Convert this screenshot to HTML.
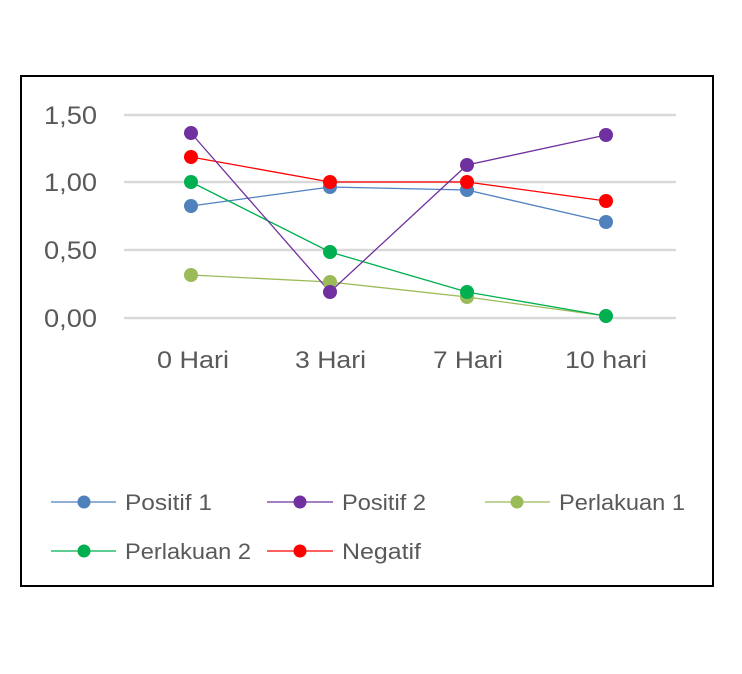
<!DOCTYPE html>
<html><head><style>body{margin:0;background:#fff}svg{display:block}</style></head><body>
<svg width="742" height="674" xmlns="http://www.w3.org/2000/svg" font-family="Liberation Sans, sans-serif">
<rect x="21" y="76" width="692" height="510" fill="#fff" stroke="#000" stroke-width="2"/>
<g stroke="#d9d9d9" stroke-width="2.5">
<line x1="124" y1="115" x2="676" y2="115"/><line x1="124" y1="182" x2="676" y2="182"/>
<line x1="124" y1="250" x2="676" y2="250"/><line x1="124" y1="318" x2="676" y2="318"/>
</g>
<g fill="#595959" font-size="25">
<text x="44" y="124" textLength="53" lengthAdjust="spacingAndGlyphs">1,50</text>
<text x="44" y="191" textLength="53" lengthAdjust="spacingAndGlyphs">1,00</text>
<text x="44" y="259" textLength="53" lengthAdjust="spacingAndGlyphs">0,50</text>
<text x="44" y="327" textLength="53" lengthAdjust="spacingAndGlyphs">0,00</text>
</g>
<g fill="#595959" font-size="24">
<text x="157" y="368" textLength="72" lengthAdjust="spacingAndGlyphs">0 Hari</text>
<text x="295" y="368" textLength="71" lengthAdjust="spacingAndGlyphs">3 Hari</text>
<text x="433" y="368" textLength="70" lengthAdjust="spacingAndGlyphs">7 Hari</text>
<text x="565" y="368" textLength="82" lengthAdjust="spacingAndGlyphs">10 hari</text>
</g>
<g fill="none" stroke-width="1.3">
<polyline stroke="#9BBB59" points="191,275 330,282 467,297 606,316"/>
<polyline stroke="#4F81BD" points="191,206 330,187 467,190 606,222"/>
<polyline stroke="#FF0000" points="191,157 330,182 467,182 606,201"/>
<polyline stroke="#00B050" points="191,182 330,252 467,292 606,316"/>
<polyline stroke="#7030A0" points="191,133 330,292 467,165 606,135"/>
</g>
<g fill="#9BBB59"><circle cx="191" cy="275" r="7"/><circle cx="330" cy="282" r="7"/><circle cx="467" cy="297" r="7"/></g>
<g fill="#4F81BD"><circle cx="191" cy="206" r="7"/><circle cx="330" cy="187" r="7"/><circle cx="467" cy="190" r="7"/><circle cx="606" cy="222" r="7"/></g>
<g fill="#FF0000"><circle cx="191" cy="157" r="7"/><circle cx="330" cy="182" r="7"/><circle cx="467" cy="182" r="7"/><circle cx="606" cy="201" r="7"/></g>
<g fill="#00B050"><circle cx="191" cy="182" r="7"/><circle cx="330" cy="252" r="7"/><circle cx="467" cy="292" r="7"/><circle cx="606" cy="316" r="7"/></g>
<g fill="#7030A0"><circle cx="191" cy="133" r="7"/><circle cx="330" cy="292" r="7"/><circle cx="467" cy="165" r="7"/><circle cx="606" cy="135" r="7"/></g>
<g font-size="22" fill="#595959">
<line x1="51" y1="502" x2="116" y2="502" stroke="#4F81BD" stroke-width="1.3"/><circle cx="84" cy="502" r="6.5" fill="#4F81BD"/><text x="125" y="510" textLength="87" lengthAdjust="spacingAndGlyphs">Positif 1</text>
<line x1="267" y1="502" x2="333" y2="502" stroke="#7030A0" stroke-width="1.3"/><circle cx="300" cy="502" r="6.5" fill="#7030A0"/><text x="342" y="510" textLength="84" lengthAdjust="spacingAndGlyphs">Positif 2</text>
<line x1="485" y1="502" x2="550" y2="502" stroke="#9BBB59" stroke-width="1.3"/><circle cx="517" cy="502" r="6.5" fill="#9BBB59"/><text x="559" y="510" textLength="126" lengthAdjust="spacingAndGlyphs">Perlakuan 1</text>
<line x1="51" y1="551" x2="116" y2="551" stroke="#00B050" stroke-width="1.3"/><circle cx="84" cy="551" r="6.5" fill="#00B050"/><text x="125" y="559" textLength="126" lengthAdjust="spacingAndGlyphs">Perlakuan 2</text>
<line x1="267" y1="551" x2="333" y2="551" stroke="#FF0000" stroke-width="1.3"/><circle cx="300" cy="551" r="6.5" fill="#FF0000"/><text x="342" y="559" textLength="79" lengthAdjust="spacingAndGlyphs">Negatif</text>
</g>
</svg>
</body></html>
